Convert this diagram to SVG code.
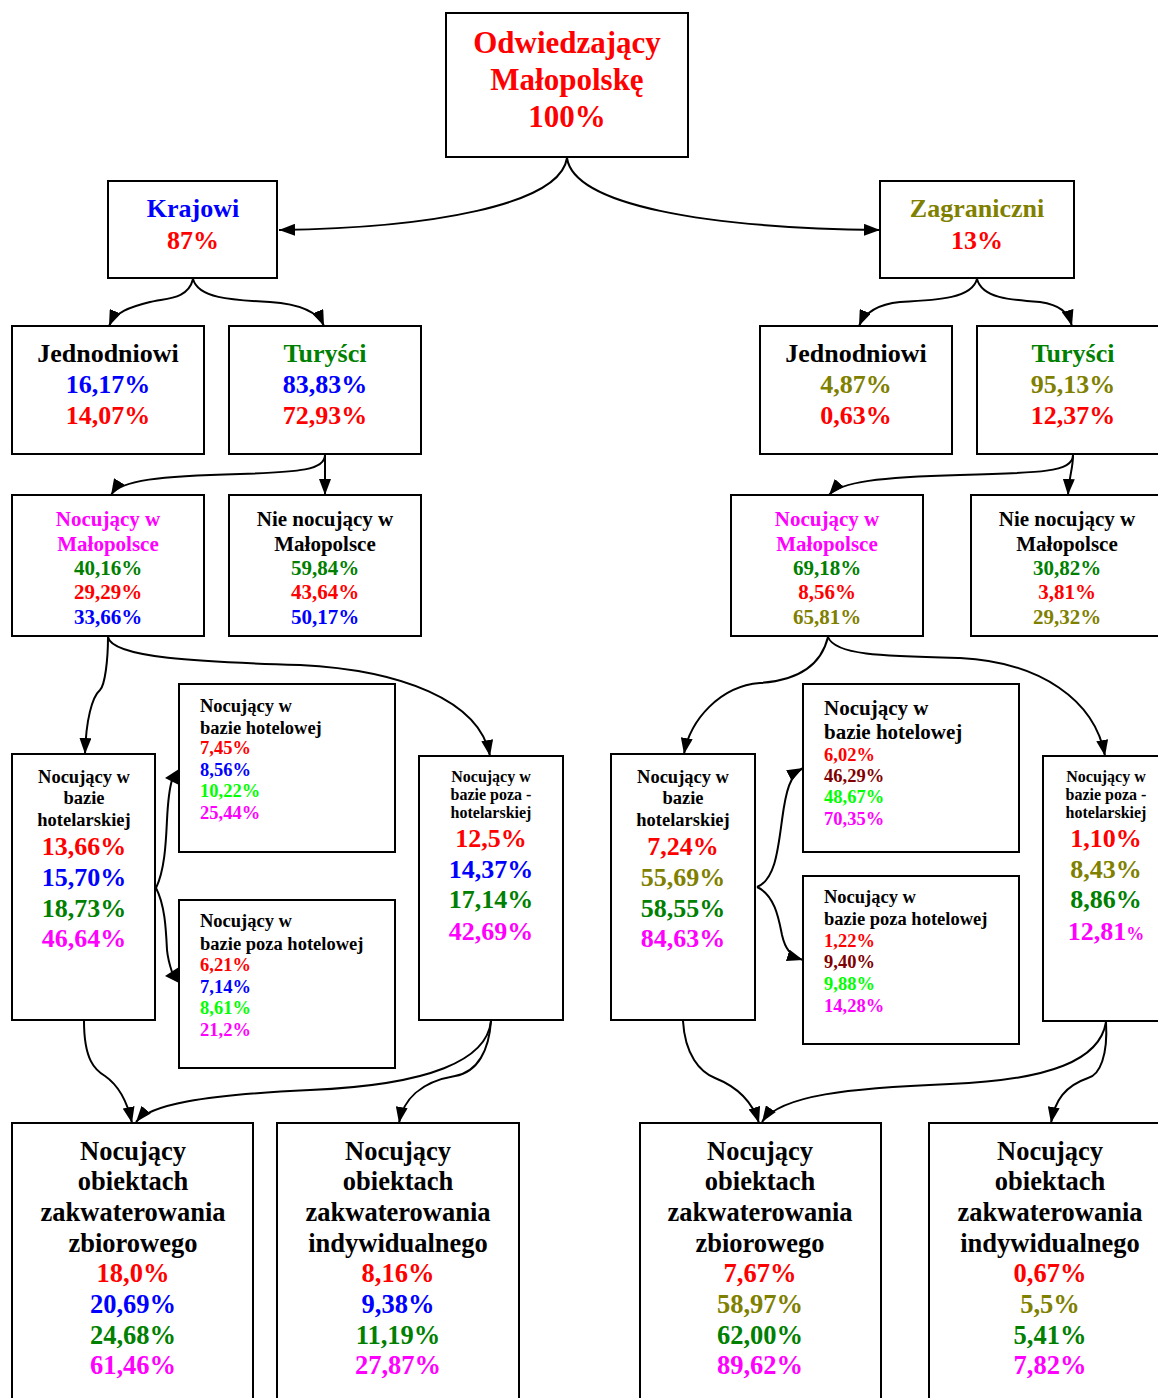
<svg xmlns="http://www.w3.org/2000/svg" width="1158" height="1398" viewBox="0 0 1158 1398">
<defs>
<marker id="ah" markerUnits="userSpaceOnUse" markerWidth="16" markerHeight="12" refX="16" refY="6" orient="auto">
<path d="M0,0 L16,6 L0,12 z" fill="#000"/>
</marker>
<style>
.box{fill:#fff;stroke:#000;stroke-width:2}
text{font-family:"Liberation Serif","Times New Roman",serif;font-weight:bold}
.c{text-anchor:middle}
.e{fill:none;stroke:#000;stroke-width:2;marker-end:url(#ah)}
.r{fill:#FF0000}.b{fill:#0000FF}.g{fill:#008000}.o{fill:#808000}.m{fill:#FF00FF}.l{fill:#00FF00}.k{fill:#000}.mr{fill:#800000}
.f31{font-size:31px}.f26{font-size:26px}.f21{font-size:21px}.f18{font-size:18.5px}.f16{font-size:16px}.f27{font-size:26.5px}
</style>
</defs>
<rect width="1158" height="1398" fill="#fff"/>

<g id="connectors">
<path class="e" d="M567,158 C560,205 430,228 279,230"/>
<path class="e" d="M567,158 C574,205 704,228 880,230"/>
<path class="e" d="M193,279 C188,300 165,298 150,302 C130,307 115,312 109,326"/>
<path class="e" d="M193,279 C198,298 230,300 270,302 C300,304 318,312 324,326"/>
<path class="e" d="M977,279 C972,298 940,300 900,302 C880,304 865,312 859,326"/>
<path class="e" d="M977,279 C982,298 1010,300 1040,302 C1060,305 1068,312 1072,326"/>
<path class="e" d="M325,455 C325,470 300,472 240,474 C160,476 120,480 111,495"/>
<path class="e" d="M325,455 L325,495"/>
<path class="e" d="M1073,455 C1073,472 1040,473 960,475 C880,477 840,482 829,495"/>
<path class="e" d="M1073,455 C1073,470 1069,475 1068,495"/>
<path class="e" d="M108,637 C108,660 105,685 100,690 C92,697 86,720 85,754"/>
<path class="e" d="M108,637 C112,658 200,662 300,665 C400,670 480,700 490,756"/>
<path class="e" d="M828,637 C820,670 790,681 760,683 C720,686 690,720 684,754"/>
<path class="e" d="M828,637 C835,655 880,656 960,658 C1040,662 1095,700 1105,756"/>
<path d="M156,888 C165,870 166,840 167,820 C168,800 169,790 172,780" fill="none" stroke="#000" stroke-width="2"/>
<polygon points="179,769 179,785 165,778" fill="#000"/>
<path d="M156,888 C165,905 166,930 167,950 C168,960 170,966 172,972" fill="none" stroke="#000" stroke-width="2"/>
<polygon points="179,967 179,983 165,976" fill="#000"/>
<path class="e" d="M757,887 C775,880 778,850 782,820 C786,790 790,775 803,768"/>
<path class="e" d="M757,887 C775,895 779,920 782,935 C785,948 790,956 803,960"/>
<path class="e" d="M84,1021 C84,1060 95,1070 105,1076 C118,1085 127,1100 132,1123"/>
<path class="e" d="M491,1021 C487,1060 430,1085 310,1090 C200,1095 150,1105 136,1122"/>
<path class="e" d="M491,1021 C489,1050 478,1072 455,1076 C420,1082 403,1100 399,1123"/>
<path class="e" d="M683,1021 C685,1055 700,1072 715,1078 C735,1086 752,1100 759,1123"/>
<path class="e" d="M1106,1022 C1100,1060 1050,1080 950,1084 C850,1088 780,1095 762,1122"/>
<path class="e" d="M1106,1022 C1108,1055 1100,1075 1088,1078 C1065,1086 1055,1100 1051,1123"/>
</g>

<g id="n_top">
<rect class="box" x="446" y="13" width="242" height="144"/>
<text class="c f31 r" x="567" y="53">Odwiedzający</text>
<text class="c f31 r" x="567" y="90">Małopolskę</text>
<text class="c f31 r" x="567" y="127">100%</text>
</g>

<g id="n_krajowi">
<rect class="box" x="108" y="181" width="169" height="97"/>
<text class="c f26 b" x="193" y="217">Krajowi</text>
<text class="c f26 r" x="193" y="249">87%</text>
</g>
<g id="n_zagraniczni">
<rect class="box" x="880" y="181" width="194" height="97"/>
<text class="c f26 o" x="977" y="217">Zagraniczni</text>
<text class="c f26 r" x="977" y="249">13%</text>
</g>

<g id="n_jedn_l">
<rect class="box" x="12" y="326" width="192" height="128"/>
<text class="c f26 k" x="108" y="362">Jednodniowi</text>
<text class="c f26 b" x="108" y="393">16,17%</text>
<text class="c f26 r" x="108" y="424">14,07%</text>
</g>
<g id="n_tur_l">
<rect class="box" x="229" y="326" width="192" height="128"/>
<text class="c f26 g" x="325" y="362">Turyści</text>
<text class="c f26 b" x="325" y="393">83,83%</text>
<text class="c f26 r" x="325" y="424">72,93%</text>
</g>
<g id="n_jedn_r">
<rect class="box" x="760" y="326" width="192" height="128"/>
<text class="c f26 k" x="856" y="362">Jednodniowi</text>
<text class="c f26 o" x="856" y="393">4,87%</text>
<text class="c f26 r" x="856" y="424">0,63%</text>
</g>
<g id="n_tur_r">
<rect class="box" x="977" y="326" width="192" height="128"/>
<text class="c f26 g" x="1073" y="362">Turyści</text>
<text class="c f26 o" x="1073" y="393">95,13%</text>
<text class="c f26 r" x="1073" y="424">12,37%</text>
</g>

<g id="n_noc_l">
<rect class="box" x="12" y="495" width="192" height="141"/>
<text class="c f21 m" x="108" y="526">Nocujący w</text>
<text class="c f21 m" x="108" y="551">Małopolsce</text>
<text class="c f21 g" x="108" y="575">40,16%</text>
<text class="c f21 r" x="108" y="599">29,29%</text>
<text class="c f21 b" x="108" y="624">33,66%</text>
</g>
<g id="n_nienoc_l">
<rect class="box" x="229" y="495" width="192" height="141"/>
<text class="c f21 k" x="325" y="526">Nie nocujący w</text>
<text class="c f21 k" x="325" y="551">Małopolsce</text>
<text class="c f21 g" x="325" y="575">59,84%</text>
<text class="c f21 r" x="325" y="599">43,64%</text>
<text class="c f21 b" x="325" y="624">50,17%</text>
</g>
<g id="n_noc_r">
<rect class="box" x="731" y="495" width="192" height="141"/>
<text class="c f21 m" x="827" y="526">Nocujący w</text>
<text class="c f21 m" x="827" y="551">Małopolsce</text>
<text class="c f21 g" x="827" y="575">69,18%</text>
<text class="c f21 r" x="827" y="599">8,56%</text>
<text class="c f21 o" x="827" y="624">65,81%</text>
</g>
<g id="n_nienoc_r">
<rect class="box" x="971" y="495" width="192" height="141"/>
<text class="c f21 k" x="1067" y="526">Nie nocujący w</text>
<text class="c f21 k" x="1067" y="551">Małopolsce</text>
<text class="c f21 g" x="1067" y="575">30,82%</text>
<text class="c f21 r" x="1067" y="599">3,81%</text>
<text class="c f21 o" x="1067" y="624">29,32%</text>
</g>

<g id="n_hotelarsk_l">
<rect class="box" x="12" y="754" width="143" height="266"/>
<text class="c f18 k" x="84" y="783">Nocujący w</text>
<text class="c f18 k" x="84" y="804">bazie</text>
<text class="c f18 k" x="84" y="826">hotelarskiej</text>
<text class="c f26 r" x="84" y="855">13,66%</text>
<text class="c f26 b" x="84" y="886">15,70%</text>
<text class="c f26 g" x="84" y="917">18,73%</text>
<text class="c f26 m" x="84" y="947">46,64%</text>
</g>
<g id="n_hotel_l">
<rect class="box" x="179" y="684" width="216" height="168"/>
<text class="f18 k" x="200" y="712">Nocujący w</text>
<text class="f18 k" x="200" y="734">bazie hotelowej</text>
<text class="f18 r" x="200" y="754">7,45%</text>
<text class="f18 b" x="200" y="776">8,56%</text>
<text class="f18 l" x="200" y="797">10,22%</text>
<text class="f18 m" x="200" y="819">25,44%</text>
</g>
<g id="n_pozahotel_l">
<rect class="box" x="179" y="900" width="216" height="168"/>
<text class="f18 k" x="200" y="927">Nocujący w</text>
<text class="f18 k" x="200" y="950">bazie poza hotelowej</text>
<text class="f18 r" x="200" y="971">6,21%</text>
<text class="f18 b" x="200" y="993">7,14%</text>
<text class="f18 l" x="200" y="1014">8,61%</text>
<text class="f18 m" x="200" y="1036">21,2%</text>
</g>
<g id="n_pozahotelarsk_l">
<rect class="box" x="419" y="756" width="144" height="264"/>
<text class="c f16 k" x="491" y="782">Nocujący w</text>
<text class="c f16 k" x="491" y="800">bazie poza -</text>
<text class="c f16 k" x="491" y="818">hotelarskiej</text>
<text class="c f26 r" x="491" y="847">12,5%</text>
<text class="c f26 b" x="491" y="878">14,37%</text>
<text class="c f26 g" x="491" y="908">17,14%</text>
<text class="c f26 m" x="491" y="940">42,69%</text>
</g>

<g id="n_hotelarsk_r">
<rect class="box" x="611" y="754" width="144" height="266"/>
<text class="c f18 k" x="683" y="783">Nocujący w</text>
<text class="c f18 k" x="683" y="804">bazie</text>
<text class="c f18 k" x="683" y="826">hotelarskiej</text>
<text class="c f26 r" x="683" y="855">7,24%</text>
<text class="c f26 o" x="683" y="886">55,69%</text>
<text class="c f26 g" x="683" y="917">58,55%</text>
<text class="c f26 m" x="683" y="947">84,63%</text>
</g>
<g id="n_hotel_r">
<rect class="box" x="803" y="684" width="216" height="168"/>
<text class="f21 k" x="824" y="715">Nocujący w</text>
<text class="f21 k" x="824" y="739">bazie hotelowej</text>
<text class="f18 r" x="824" y="761">6,02%</text>
<text class="f18 mr" x="824" y="782">46,29%</text>
<text class="f18 l" x="824" y="803">48,67%</text>
<text class="f18 m" x="824" y="825">70,35%</text>
</g>
<g id="n_pozahotel_r">
<rect class="box" x="803" y="876" width="216" height="168"/>
<text class="f18 k" x="824" y="903">Nocujący w</text>
<text class="f18 k" x="824" y="925">bazie poza hotelowej</text>
<text class="f18 r" x="824" y="947">1,22%</text>
<text class="f18 mr" x="824" y="968">9,40%</text>
<text class="f18 l" x="824" y="990">9,88%</text>
<text class="f18 m" x="824" y="1012">14,28%</text>
</g>
<g id="n_pozahotelarsk_r">
<rect class="box" x="1043" y="756" width="144" height="265"/>
<text class="c f16 k" x="1106" y="782">Nocujący w</text>
<text class="c f16 k" x="1106" y="800">bazie poza -</text>
<text class="c f16 k" x="1106" y="818">hotelarskiej</text>
<text class="c f26 r" x="1106" y="847">1,10%</text>
<text class="c f26 o" x="1106" y="878">8,43%</text>
<text class="c f26 g" x="1106" y="908">8,86%</text>
<text class="c f26 m" x="1106" y="940">12,81<tspan style="font-size:18px">%</tspan></text>
</g>

<g id="n_zbior_l">
<rect class="box" x="12" y="1123" width="241" height="290"/>
<text class="c f27 k" x="133" y="1160">Nocujący</text>
<text class="c f27 k" x="133" y="1190">obiektach</text>
<text class="c f27 k" x="133" y="1221">zakwaterowania</text>
<text class="c f27 k" x="133" y="1252">zbiorowego</text>
<text class="c f27 r" x="133" y="1282">18,0%</text>
<text class="c f27 b" x="133" y="1313">20,69%</text>
<text class="c f27 g" x="133" y="1344">24,68%</text>
<text class="c f27 m" x="133" y="1374">61,46%</text>
</g>
<g id="n_indyw_l">
<rect class="box" x="277" y="1123" width="242" height="290"/>
<text class="c f27 k" x="398" y="1160">Nocujący</text>
<text class="c f27 k" x="398" y="1190">obiektach</text>
<text class="c f27 k" x="398" y="1221">zakwaterowania</text>
<text class="c f27 k" x="398" y="1252">indywidualnego</text>
<text class="c f27 r" x="398" y="1282">8,16%</text>
<text class="c f27 b" x="398" y="1313">9,38%</text>
<text class="c f27 g" x="398" y="1344">11,19%</text>
<text class="c f27 m" x="398" y="1374">27,87%</text>
</g>
<g id="n_zbior_r">
<rect class="box" x="640" y="1123" width="241" height="290"/>
<text class="c f27 k" x="760" y="1160">Nocujący</text>
<text class="c f27 k" x="760" y="1190">obiektach</text>
<text class="c f27 k" x="760" y="1221">zakwaterowania</text>
<text class="c f27 k" x="760" y="1252">zbiorowego</text>
<text class="c f27 r" x="760" y="1282">7,67%</text>
<text class="c f27 o" x="760" y="1313">58,97%</text>
<text class="c f27 g" x="760" y="1344">62,00%</text>
<text class="c f27 m" x="760" y="1374">89,62%</text>
</g>
<g id="n_indyw_r">
<rect class="box" x="929" y="1123" width="242" height="290"/>
<text class="c f27 k" x="1050" y="1160">Nocujący</text>
<text class="c f27 k" x="1050" y="1190">obiektach</text>
<text class="c f27 k" x="1050" y="1221">zakwaterowania</text>
<text class="c f27 k" x="1050" y="1252">indywidualnego</text>
<text class="c f27 r" x="1050" y="1282">0,67%</text>
<text class="c f27 o" x="1050" y="1313">5,5%</text>
<text class="c f27 g" x="1050" y="1344">5,41%</text>
<text class="c f27 m" x="1050" y="1374">7,82%</text>
</g>
</svg>
